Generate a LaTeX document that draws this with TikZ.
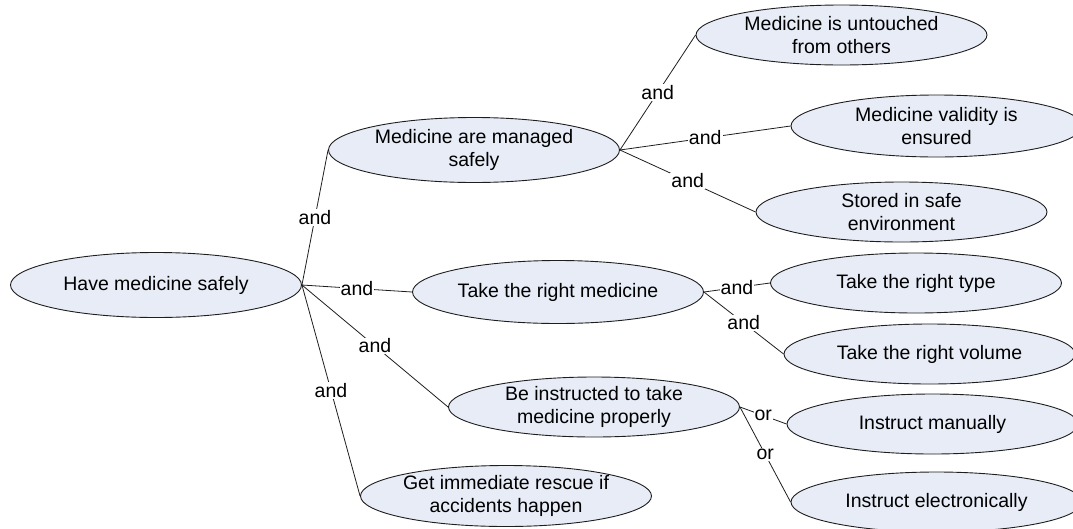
\documentclass[tikz,border=0pt]{standalone}
\usepackage{fontspec}
\setmainfont{Liberation Sans}
\usetikzlibrary{shapes.geometric}
\definecolor{goalfill}{RGB}{231,236,247}
\definecolor{inkline}{RGB}{30,30,30}
\begin{document}
\begin{tikzpicture}[x=1pt,y=-1pt,
  goal/.style={ellipse, draw=inkline, line width=0.9pt, fill=goalfill,
    inner sep=0pt, minimum width=291pt, minimum height=#1},
  goal/.default=60pt,
  txt/.style={font=\fontsize{19.5}{23.4}\selectfont, align=center, inner sep=0pt},
  link/.style={draw=inkline, line width=0.8pt},
  rel/.style={font=\fontsize{19.5}{23.4}\selectfont, fill=white, inner sep=1pt, pos=0.5}
]
\clip (0,0) rectangle (1073,528);

% goal tree
\node[goal=65pt, label={[txt]center:Have medicine safely}] (root) at (156,285) {};

\node[goal=65pt, label={[txt]center:Medicine are managed\\safely}] (managed) at (474,150) {};
\node[goal=63pt, label={[txt]center:Take the right medicine}] (take) at (558,292) {};
\node[goal=60pt, label={[txt]center:Be instructed to take\\medicine properly}] (instr) at (594,407) {};
\node[goal=61pt, label={[txt]center:Get immediate rescue if\\accidents happen}] (rescue) at (506,496) {};

\node[goal, label={[txt]center:Medicine is untouched\\from others}] (untouched) at (841.5,35) {};
\node[goal=62pt, label={[txt]center:Medicine validity is\\ensured}] (validity) at (936.5,126) {};
\node[goal, label={[txt]center:Stored in safe\\environment}] (stored) at (901.5,212) {};

\node[goal, label={[txt]center:Take the right type}] (rtype) at (916,283) {};
\node[goal, label={[txt]center:Take the right volume}] (rvolume) at (929.5,354) {};

\node[goal, label={[txt]center:Instruct manually}] (manual) at (932.5,424) {};
\node[goal, label={[txt]center:Instruct electronically}] (electronic) at (936.5,502) {};

% refinement links
\path[link] (root.east) -- node[rel] (l1) {and} (managed.west);
\path[link] (root.east) -- node[rel] (l2) {and} (take.west);
\path[link] (root.east) -- node[rel] (l3) {and} (instr.west);
\path[link] (root.east) -- node[rel] (l4) {and} (rescue.west);

\path[link] (managed.east) -- node[rel] (l5) {and} (untouched.west);
\path[link] (managed.east) -- node[rel] (l6) {and} (validity.west);
\path[link] (managed.east) -- node[rel] (l7) {and} (stored.west);

\path[link] (take.east) -- node[rel] (l8) {and} (rtype.west);
\path[link] (take.east) -- node[rel] (l9) {and} (rvolume.west);

\path[link] (instr.east) -- node[rel] (l10) {or} (manual.west);
\path[link] (instr.east) -- node[rel] (l11) {or} (electronic.west);
\end{tikzpicture}
\end{document}
